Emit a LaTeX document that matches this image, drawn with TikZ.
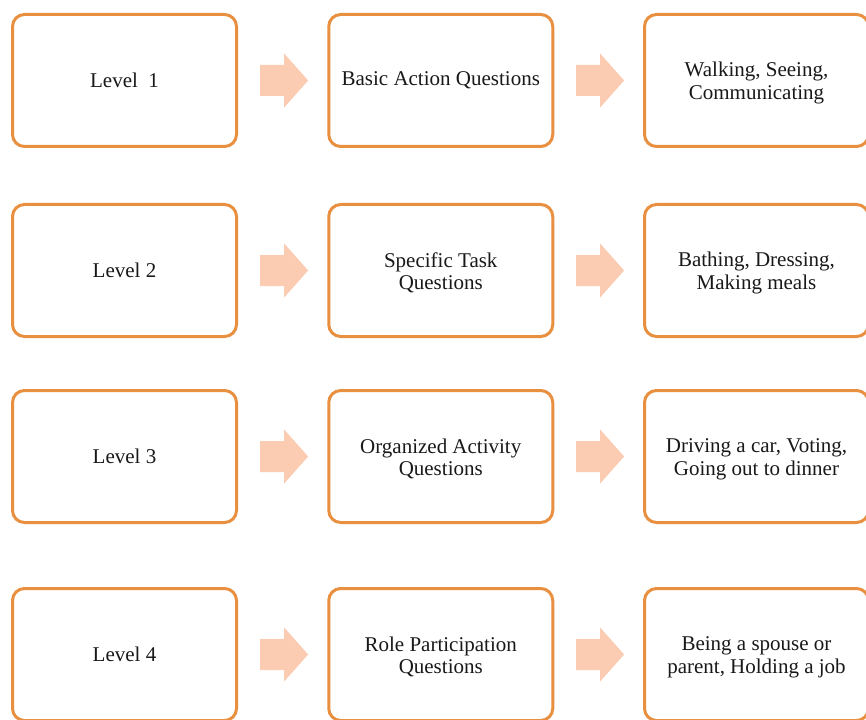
\documentclass[tikz,border=0pt]{standalone}
\usepackage{fontspec}
\setmainfont{Liberation Serif}
\usetikzlibrary{calc}
\definecolor{boxline}{RGB}{232,144,63}
\definecolor{arrowfill}{RGB}{251,204,178}
\definecolor{textcol}{RGB}{25,25,25}
\tikzset{
  levelbox/.style={draw=boxline, line width=3pt, rounded corners=12pt,
    fill=white, minimum width=224pt, minimum height=132pt, inner sep=2pt,
    align=center, text=textcol,
    font=\fontsize{21}{22.5}\selectfont},
  blockarrow/.style={fill=arrowfill, draw=none}
}
% extra head room on the first line of two-line labels, so they sit a little lower
\newcommand\firstline{\rule{0pt}{19.5pt}}
% block arrow centred at a coordinate
\newcommand\flowarrow[1]{%
  \fill[blockarrow] ($(#1)+(-24,-15.5)$) -- ++(24,0) -- ++(0,-11.5)
    -- ++(24,27) -- ++(-24,27) -- ++(0,-11.5) -- ++(-24,0) -- cycle;}
\begin{document}
\begin{tikzpicture}[x=1pt,y=-1pt]
\useasboundingbox (0,0) rectangle (866,719);
\fill[white] (0,0) rectangle (866,719);

% row 1
\node[levelbox] (l1) at (124.5,80.5) {Level~~1};
\node[levelbox] (q1) at (440.75,80.5) {Basic Action Questions};
\node[levelbox] (e1) at (756.5,80.5) {\firstline Walking, Seeing,\\Communicating};
% row 2
\node[levelbox] (l2) at (124.5,270.5) {Level 2};
\node[levelbox] (q2) at (440.75,270.5) {\firstline Specific Task\\Questions};
\node[levelbox] (e2) at (756.5,270.5) {\firstline Bathing, Dressing,\\Making meals};
% row 3
\node[levelbox] (l3) at (124.5,456.5) {Level 3};
\node[levelbox] (q3) at (440.75,456.5) {\firstline Organized Activity\\Questions};
\node[levelbox] (e3) at (756.5,456.5) {\firstline Driving a car, Voting,\\Going out to dinner};
% row 4
\node[levelbox] (l4) at (124.5,654.5) {Level 4};
\node[levelbox] (q4) at (440.75,654.5) {\firstline Role Participation\\Questions};
\node[levelbox] (e4) at (756.5,654.5) {\firstline Being a spouse or\\parent, Holding a job};

% block arrows between the columns
\foreach \r in {1,2,3,4}{
  \coordinate (a\r) at ($(l\r.east)!0.5!(q\r.west)+(1.5,0)$);
  \coordinate (b\r) at ($(q\r.east)!0.5!(e\r.west)+(1.5,0)$);
  \flowarrow{a\r}
  \flowarrow{b\r}
}
\end{tikzpicture}
\end{document}
